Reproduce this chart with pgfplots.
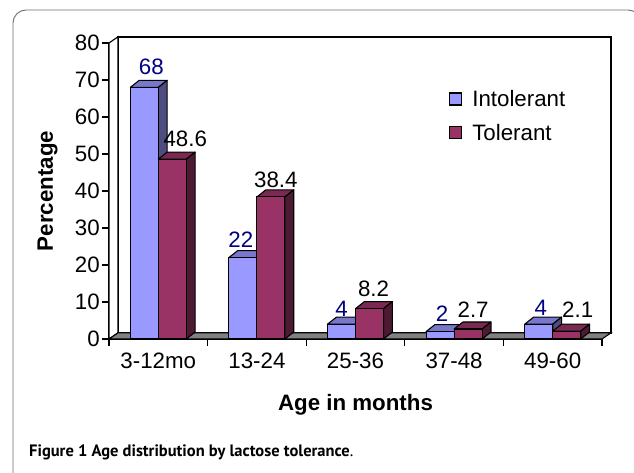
\documentclass[border=0pt]{standalone}
\usepackage{fontspec}
\setmainfont{Liberation Sans}
\newfontfamily\capfont{PT Sans}
\usepackage{pgfplots}
\pgfplotsset{compat=1.18}
\pgfplotsset{/pgf/number format/assume math mode=true}
\definecolor{intF}{HTML}{9999FF}
\definecolor{intT}{HTML}{7777CC}
\definecolor{intS}{HTML}{4D4D80}
\definecolor{tolF}{HTML}{993366}
\definecolor{tolT}{HTML}{7A2952}
\definecolor{tolS}{HTML}{4D1A33}
\definecolor{floorc}{HTML}{808080}
\definecolor{labblue}{HTML}{000080}
\definecolor{framec}{HTML}{6E6E6E}
\newcommand{\bigfont}{\fontsize{22.3}{26}\selectfont}
% 3D top and side faces of a bar: #1 left x of the front face, #2 value
\newcommand{\tdbar}[4]{%
  \pgfmathsetmacro\xa{#1}%
  \pgfmathsetmacro\xb{#1+0.284}%
  \pgfmathsetmacro\xc{#1+0.374}%
  \pgfmathsetmacro\xd{#1+0.09}%
  \pgfmathsetmacro\yt{#2+1.9}%
  \addplot[fill=#3, draw=black, line width=1.1pt, line join=round, forget plot]
    coordinates {(\xa,#2) (\xb,#2) (\xc,\yt) (\xd,\yt)} -- cycle;
  \addplot[fill=#4, draw=black, line width=1.1pt, line join=round, forget plot]
    coordinates {(\xb,0) (\xc,1.9) (\xc,\yt) (\xb,#2)} -- cycle;
}
\begin{document}
\begin{tikzpicture}
\useasboundingbox (0,0) rectangle (634pt,473pt);
\begin{scope}
\clip (0,0) rectangle (634pt,473pt);
\draw[framec, line width=0.9pt, rounded corners=13pt] (13pt,-30pt) rectangle (641pt,463pt);
\end{scope}
\begin{axis}[
  scale only axis, width=493pt, height=296pt,
  at={(109pt,134pt)}, anchor=south west,
  xmin=-0.5, xmax=4.5, ymin=0, ymax=80,
  clip=false,
  axis lines*=left,
  axis line style={line width=1.1pt},
  ytick={0,10,...,80},
  yticklabel={\pgfmathprintnumber{\tick}},
  xtick={0,1,2,3,4},
  xticklabels={3-12mo,13-24,25-36,37-48,49-60},
  minor xtick={-0.5,0.5,1.5,2.5,3.5,4.5},
  tick align=outside,
  major tick length=7pt, minor tick length=7pt,
  tick style={line width=1.1pt, black},
  major x tick style={draw=none},
  yticklabel style={font=\bigfont, inner sep=2pt},
  xticklabel style={font=\bigfont, yshift=-3pt},
  xlabel={\textbf{Age in months}},
  xlabel style={font=\bigfont, at={(axis description cs:0.5,-0.2399)}, anchor=base},
  ylabel={\textbf{Percentage}},
  ylabel style={font=\bigfont, at={(axis description cs:-0.1136,0.5)}, anchor=base},
  legend style={draw=none, fill=none, at={(axis description cs:0.6897,0.848)}, anchor=north west,
    font=\bigfont, row sep=12pt, inner sep=0pt, nodes={inner sep=2pt}},
  legend cell align=left,
]
% walls and floor
\addplot[fill=white, draw=black, line width=1.5pt, forget plot]
  coordinates {(-0.41,1.65) (4.59,1.65) (4.59,81.65) (-0.41,81.65)} -- cycle;
\addplot[fill=white, draw=black, line width=1.1pt, forget plot]
  coordinates {(-0.5,0) (-0.41,1.65) (-0.41,81.65) (-0.5,80)} -- cycle;
\addplot[fill=floorc, draw=black, line width=1.1pt, forget plot]
  coordinates {(-0.5,0) (4.5,0) (4.59,1.65) (-0.41,1.65)} -- cycle;
% Intolerant
\tdbar{-0.284}{68}{intT}{intS}
\tdbar{0.716}{22}{intT}{intS}
\tdbar{1.716}{4}{intT}{intS}
\tdbar{2.716}{2}{intT}{intS}
\tdbar{3.716}{4}{intT}{intS}
\addplot[ybar, bar width=0.284, bar shift=-0.142, fill=intF, draw=black, line width=1.1pt,
  legend image code/.code={\draw[fill=intF, draw=black, line width=1.1pt] (0pt,-6pt) rectangle (12pt,6pt); \path (20pt,0pt);},
  visualization depends on={\thisrow{lx} \as \labx},
  visualization depends on={\thisrow{ly} \as \laby},
  nodes near coords,
  every node near coord/.append style={font=\bigfont, text=labblue, anchor=base,
    xshift=\labx pt, yshift=\laby pt, inner sep=0pt}]
  table {
x y lx ly
0 68 -7 12.4
1 22 -16 9.6
2 4 -14 8
3 2 -12 9.6
4 4 -12 9
};
\addlegendentry{Intolerant}
% Tolerant
\tdbar{0}{48.6}{tolT}{tolS}
\tdbar{1}{38.4}{tolT}{tolS}
\tdbar{2}{8.2}{tolT}{tolS}
\tdbar{3}{2.7}{tolT}{tolS}
\tdbar{4}{2.1}{tolT}{tolS}
\addplot[ybar, bar width=0.284, bar shift=0.142, fill=tolF, draw=black, line width=1.1pt,
  legend image code/.code={\draw[fill=tolF, draw=black, line width=1.1pt] (0pt,-6pt) rectangle (12pt,6pt); \path (20pt,0pt);},
  visualization depends on={\thisrow{lx} \as \labx},
  visualization depends on={\thisrow{ly} \as \laby},
  nodes near coords,
  every node near coord/.append style={font=\bigfont, text=black, anchor=base,
    xshift=\labx pt, yshift=\laby pt, inner sep=0pt}]
  table {
x y lx ly
0 48.6 27 13
1 38.4 19 9
2 8.2 18 12
3 2.7 19 12
4 2.1 25 14
};
\addlegendentry{Tolerant}
\end{axis}
\node[anchor=base west, inner sep=0pt] at (29pt,16pt)
  {\capfont\fontsize{16.5}{19}\selectfont\textbf{Figure 1 Age distribution by lactose tolerance}.};
\end{tikzpicture}
\end{document}
